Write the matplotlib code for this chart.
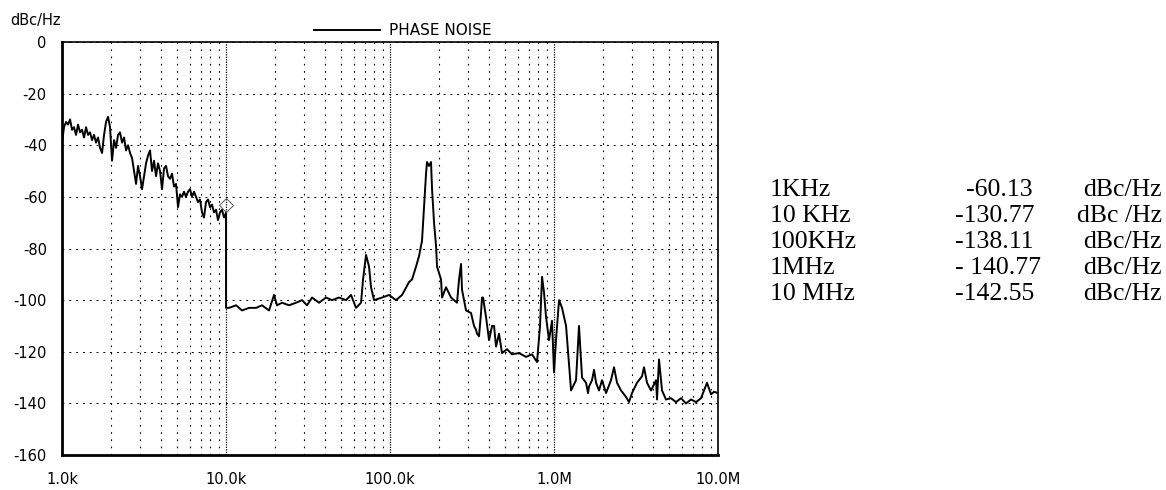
import numpy as np
import matplotlib.pyplot as plt
from matplotlib.ticker import FixedLocator, LogLocator, NullFormatter

# measured phase noise trace (offset frequency in Hz, level in dBc/Hz)
freq_hz = [
    1000, 1028, 1058, 1088, 1119, 1151, 1183, 1217, 1252, 1288,
    1324, 1362, 1401, 1441, 1482, 1524, 1567, 1612, 1658, 1705,
    1754, 1804, 1855, 1908, 1962, 2018, 2076, 2135, 2196, 2258,
    2322, 2389, 2457, 2527, 2599, 2673, 2749, 2827, 2907, 2990,
    3075, 3163, 3253, 3345, 3440, 3538, 3639, 3743, 3849, 3959,
    4071, 4187, 4307, 4429, 4555, 4685, 4818, 4955, 5097, 5242,
    5391, 5544, 5702, 5864, 6031, 6203, 6380, 6561, 6748, 6940,
    7138, 7341, 7550, 7765, 7986, 8213, 8447, 8688, 8935, 9189,
    9451, 9720, 9900, 10000, 10000,
    10430, 11510, 12520, 13810, 15240, 16580, 18290, 19620, 20460, 21950,
    24220, 26720, 29070, 31180, 33450, 36910, 40720, 44300, 48870, 53920,
    57830, 62040, 66550, 68460, 71390, 74470, 76590, 79870, 89380, 98600,
    108800, 118400, 130600, 136200, 144100, 150200, 156700, 161200, 165800, 168100,
    172900, 177800, 180400, 185500, 190800, 193500, 204600, 207600, 219500, 235500,
    256200, 263500, 271000, 274800, 290700, 311800, 325300, 334500, 339200, 348800,
    358800, 363900, 369000, 384900, 401600, 418800, 430700, 443000, 461900, 481800,
    516900, 554400, 611900, 675100, 734300, 787600, 821500, 845000, 869000, 893800,
    932200, 972300, 1000000,
    1028000, 1073000, 1119000, 1184000, 1270000, 1362000, 1420000, 1482000, 1567000, 1612000,
    1635000, 1705000, 1754000, 1804000, 1881000, 1962000, 2076000, 2226000, 2322000, 2422000,
    2562000, 2748000, 2866000, 2990000, 3207000, 3440000, 3538000, 3690000, 3903000, 4188000,
    4246000, 4367000, 4555000, 4818000, 5168000, 5544000, 5947000, 6380000, 6845000, 7343000,
    7876000, 8215000, 8569000, 9064000, 9454000, 10000000,
]
noise_dbc = [
    -39, -33, -31, -32, -30, -34, -33, -36, -32, -35,
    -34, -37, -33, -36, -35, -38, -36, -39, -37, -41,
    -43, -36, -31, -29, -33, -46, -38, -41, -36, -35,
    -39, -37, -42, -40, -43, -45, -50, -55, -48, -52,
    -57, -52, -47, -44, -42, -50, -46, -52, -47, -50,
    -57, -49, -48, -52, -53, -51, -56, -55, -64, -59,
    -60, -58, -60, -58, -57, -60, -58, -60, -62, -61,
    -66, -68, -62, -61, -64, -63, -66, -65, -69, -66,
    -65, -68, -67, -66, -103,
    -103, -102, -104, -103, -103, -102, -104, -98, -102, -101,
    -102, -101, -100, -102, -99, -101, -99, -100, -99, -100,
    -98, -103, -101, -92, -82.5, -87, -95, -100, -99, -98,
    -100, -98, -93, -92, -87, -83, -77, -64, -51, -46.5,
    -48, -46.5, -57, -70, -79, -87, -92, -99, -95, -99,
    -101, -92, -86, -96, -104, -105, -110, -111.5, -113, -114,
    -105, -99, -99, -106.5, -115.5, -110, -110, -118, -113, -120.5,
    -119, -121, -120.5, -122, -121, -124, -110, -91, -97, -106.5,
    -115.5, -108, -128,
    -115.5, -100, -103, -110, -135, -131, -110, -130, -132, -136,
    -133.5, -131, -127, -132, -135, -131, -136, -131, -126, -132,
    -135, -137.5, -139.5, -136, -132, -129.5, -126, -132, -135, -131,
    -138.5, -123, -135, -138.5, -138, -139.5, -138, -140, -138.5, -139.5,
    -138, -135, -132, -136.5, -135.5, -136,
]

# marker placed on the trace at 10 kHz
marker_freq = [10000]
marker_dbc = [-63]

x_ticks = [1e3, 1e4, 1e5, 1e6, 1e7]
x_labels = ['1.0k', '10.0k', '100.0k', '1.0M', '10.0M']
y_ticks = [0, -20, -40, -60, -80, -100, -120, -140, -160]

# spot noise readings listed beside the plot
spot_freqs = ['1KHz', '10 KHz', '100KHz', '1MHz', '10 MHz']
spot_values = ['-60.13', '-130.77', '-138.11', '- 140.77', '-142.55']
spot_units = ['dBc/Hz', 'dBc /Hz', 'dBc/Hz', 'dBc/Hz', 'dBc/Hz']

plt.rcParams['font.family'] = ['DejaVu Sans']

fig = plt.figure(figsize=(11.66, 4.9), dpi=100)
ax = fig.add_axes([0.0532, 0.0714, 0.5626, 0.8429])

ax.plot(freq_hz, noise_dbc, color='black', lw=1.4, label='PHASE NOISE')
ax.plot(marker_freq, marker_dbc, linestyle='none', marker='D', ms=7,
        mfc='none', mec='#555555', mew=0.7)

ax.set_xscale('log')
ax.set_xlim(1e3, 1e7)
ax.set_ylim(-160, 0)
ax.xaxis.set_major_locator(FixedLocator(x_ticks))
ax.set_xticklabels(x_labels)
ax.xaxis.set_minor_locator(LogLocator(base=10, subs=np.arange(2, 10)))
ax.xaxis.set_minor_formatter(NullFormatter())
ax.set_yticks(y_ticks)
ax.set_yticklabels([str(v) for v in y_ticks])
ax.tick_params(axis='both', which='both', length=0, labelsize=10.5)
ax.tick_params(axis='x', pad=12)
ax.tick_params(axis='y', pad=11)

# dotted decade grid, sparse dots for 2..9, dashed level lines
ax.xaxis.grid(True, which='major', color='black', lw=0.9, linestyle=(0, (1, 1)))
ax.xaxis.grid(True, which='minor', color='black', lw=0.8, linestyle=(0, (1.5, 5)))
ax.yaxis.grid(True, which='major', color='black', lw=0.7, linestyle=(0, (2, 5)))

for side in ['left', 'bottom']:
    ax.spines[side].set_linewidth(2.0)
for side in ['top', 'right']:
    ax.spines[side].set_linewidth(1.2)

fig.text(0.009, 0.958, 'dBc/Hz', fontsize=10.5, ha='left', va='center')
ax.legend(loc='lower center', bbox_to_anchor=(0.52, 0.995), frameon=False,
          fontsize=11, handlelength=4.3, handletextpad=0.6, borderaxespad=0)

for i in range(len(spot_freqs)):
    y = 1 - (190 + 26 * i) / 490
    fig.text(770 / 1166, y, spot_freqs[i], family='Liberation Serif',
             fontsize=18.5, ha='left', va='center')
    x0 = 966 if i == 0 else 955
    fig.text(x0 / 1166, y, spot_values[i], family='Liberation Serif',
             fontsize=18.5, ha='left', va='center')
    fig.text(1162 / 1166, y, spot_units[i], family='Liberation Serif',
             fontsize=18.5, ha='right', va='center')

fig.savefig('out.png', dpi=100)
